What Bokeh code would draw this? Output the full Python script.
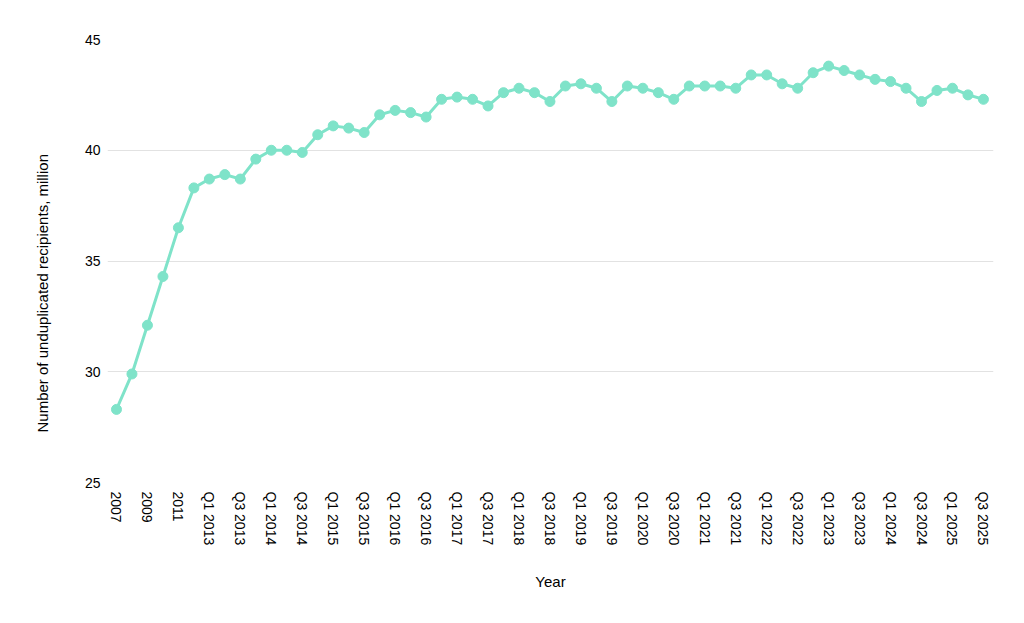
import math
from bokeh.plotting import figure
from bokeh.models import Range1d, FixedTicker, Title, ColumnDataSource
from bokeh.embed import file_html
from bokeh.resources import INLINE

periods = ["2007", "2008", "2009", "2010", "2011", "2012"]
for yr in range(2013, 2026):
    for q in (1, 2, 3, 4):
        if yr == 2025 and q == 4:
            break
        periods.append(f"Q{q} {yr}")

recipients = [
    28.3, 29.9, 32.1, 34.3, 36.5, 38.3,
    38.7, 38.9, 38.7, 39.6,   # 2013
    40.0, 40.0, 39.9, 40.7,   # 2014
    41.1, 41.0, 40.8, 41.6,   # 2015
    41.8, 41.7, 41.5, 42.3,   # 2016
    42.4, 42.3, 42.0, 42.6,   # 2017
    42.8, 42.6, 42.2, 42.9,   # 2018
    43.0, 42.8, 42.2, 42.9,   # 2019
    42.8, 42.6, 42.3, 42.9,   # 2020
    42.9, 42.9, 42.8, 43.4,   # 2021
    43.4, 43.0, 42.8, 43.5,   # 2022
    43.8, 43.6, 43.4, 43.2,   # 2023
    43.1, 42.8, 42.2, 42.7,   # 2024
    42.8, 42.5, 42.3,         # 2025
]

y_ticks = [25, 30, 35, 40, 45]
x_label = "Year"
y_label = "Number of unduplicated recipients, million"

FONT = "Liberation Sans"
COLOR = "#7fe3c9"

idx = list(range(len(periods)))
src = ColumnDataSource(dict(x=idx, y=recipients, period=periods))

p = figure(width=1000, height=600, output_backend="svg", toolbar_location=None,
           x_range=Range1d(-0.58, len(periods) - 1 + 0.65),
           y_range=Range1d(y_ticks[0], y_ticks[-1]),
           min_border_left=106, min_border_right=7, min_border_top=39, min_border_bottom=118)
p.outline_line_color = None
p.background_fill_color = "white"
p.border_fill_color = "white"

p.line("x", "y", source=src, line_color=COLOR, line_width=3)
p.scatter("x", "y", source=src, size=10, fill_color=COLOR, line_color=COLOR)

p.xaxis.ticker = FixedTicker(ticks=idx[::2])
p.xaxis.major_label_overrides = {i: periods[i] for i in idx[::2]}
p.xaxis.major_label_orientation = -math.pi / 2
p.xaxis.axis_label = x_label
p.xaxis.axis_label_standoff = 25

p.yaxis.ticker = FixedTicker(ticks=y_ticks)

for ax in (p.xaxis[0], p.yaxis[0]):
    ax.axis_line_color = None
    ax.major_tick_line_color = None
    ax.minor_tick_line_color = None
    ax.major_tick_out = 0
    ax.major_tick_in = 0
    ax.major_label_text_font = FONT
    ax.major_label_text_font_size = "14px"
    ax.major_label_text_color = "#000000"
    ax.axis_label_text_font = FONT
    ax.axis_label_text_font_size = "15px"
    ax.axis_label_text_font_style = "normal"
    ax.axis_label_text_color = "#000000"
p.xaxis.major_label_standoff = 9
p.yaxis.major_label_standoff = 7

p.xgrid.grid_line_color = None
p.ygrid.grid_line_color = "#e2e2e2"
p.ygrid.grid_line_width = 1

p.add_layout(Title(text=y_label, align="left", offset=50, vertical_align="bottom",
                   standoff=62, text_font=FONT, text_font_size="15px",
                   text_font_style="normal", text_color="#000000"), "left")

open("out.html", "w").write(file_html(p, INLINE))
